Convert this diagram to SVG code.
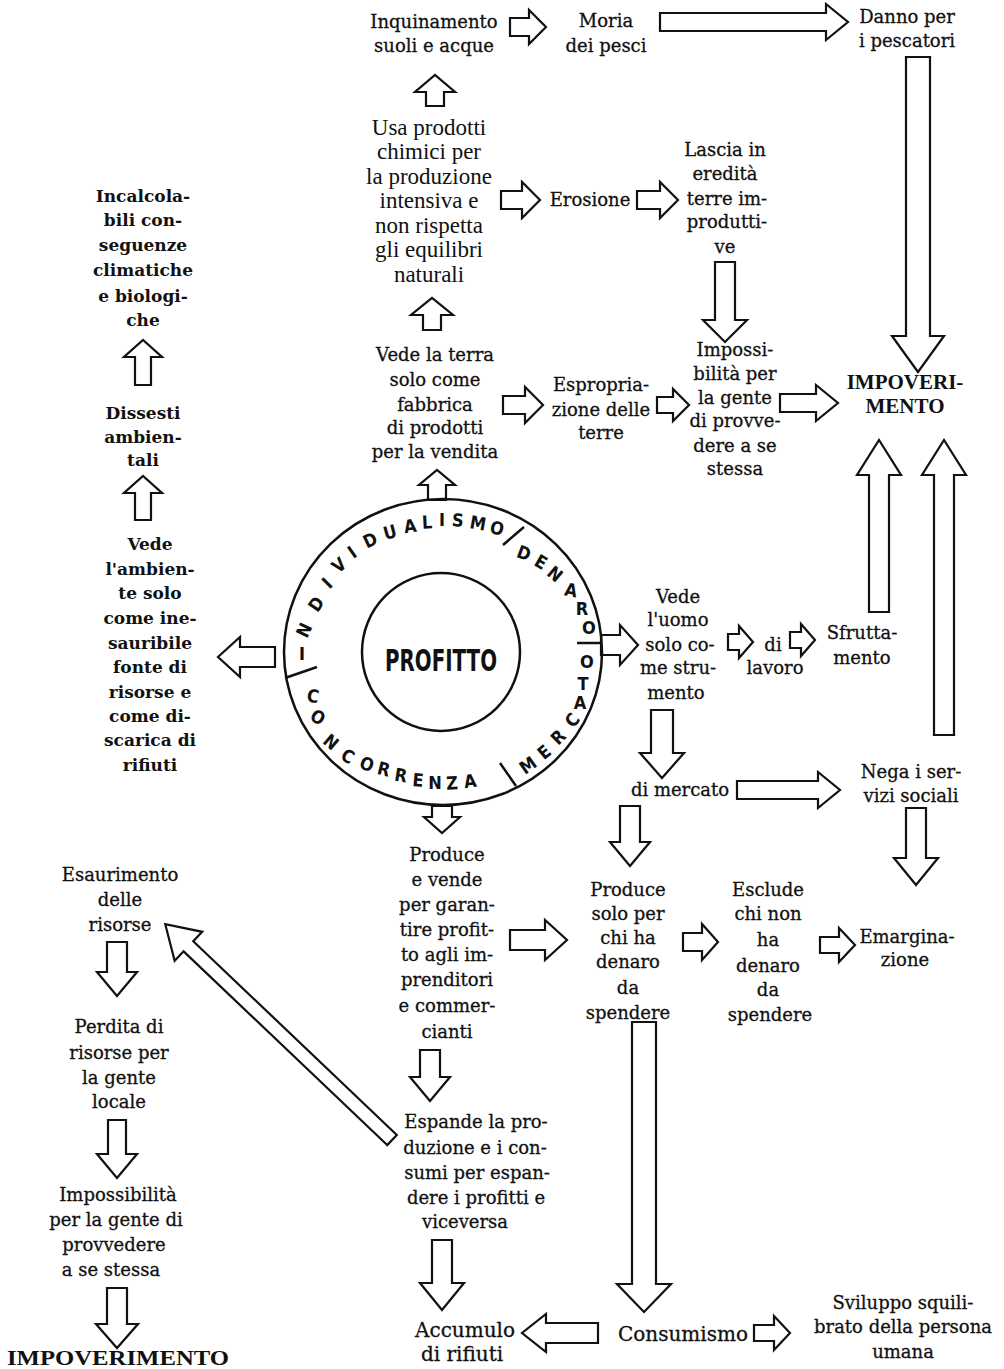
<svg xmlns="http://www.w3.org/2000/svg" width="1004" height="1369" viewBox="0 0 1004 1369">
<style>
text{fill:#111;text-anchor:middle}
.t{font-family:"DejaVu Serif","Liberation Serif",serif;font-size:18px;stroke:#111;stroke-width:0.3}
.tl{font-family:"DejaVu Serif","Liberation Serif",serif;font-size:20px;stroke:#111;stroke-width:0.3}
.b{font-family:"DejaVu Serif","Liberation Serif",serif;font-size:17px;font-weight:bold}
.tm{font-family:"Liberation Serif",serif;font-size:23px}
.cap{font-family:"Liberation Serif",serif;font-size:21px;font-weight:bold}
.ring{font-family:"DejaVu Sans Condensed","Liberation Sans",sans-serif;font-size:18px;font-weight:bold;dominant-baseline:central}
.arr{fill:#fff;stroke:#111;stroke-width:2.2;stroke-linejoin:miter}
.ln{stroke:#111;stroke-width:2.5;fill:none}
</style>
<rect width="1004" height="1369" fill="#fff"/>

<g id="connectors">
<path class="arr" d="M510,18 L529,18 L529,10 L546,27 L529,44 L529,36 L510,36 Z"/>
<path class="arr" d="M660,13 L826,13 L826,4 L848,22 L826,40 L826,31 L660,31 Z"/>
<path class="arr" d="M426,106 L444,106 L444,92 L455,92 L435,75 L415,92 L426,92 Z"/>
<path class="arr" d="M906,57 L930,57 L930,336 L944,336 L918,372 L892,336 L906,336 Z"/>
<path class="arr" d="M501,191 L522,191 L522,182 L540,200 L522,218 L522,209 L501,209 Z"/>
<path class="arr" d="M637,191 L660,191 L660,182 L678,200 L660,218 L660,209 L637,209 Z"/>
<path class="arr" d="M715,262 L735,262 L735,320 L747,320 L725,342 L703,320 L715,320 Z"/>
<path class="arr" d="M423,330 L441,330 L441,315 L453,315 L432,298 L411,315 L423,315 Z"/>
<path class="arr" d="M503,396 L525,396 L525,387 L543,405 L525,423 L525,414 L503,414 Z"/>
<path class="arr" d="M657,397 L673,397 L673,389 L689,405 L673,421 L673,413 L657,413 Z"/>
<path class="arr" d="M780,394 L816,394 L816,385 L838,403 L816,421 L816,412 L780,412 Z"/>
<path class="arr" d="M869,612 L889,612 L889,475 L901,475 L879,440 L857,475 L869,475 Z"/>
<path class="arr" d="M934,735 L954,735 L954,475 L966,475 L944,440 L922,475 L934,475 Z"/>
<path class="arr" d="M428,500 L446,500 L446,485 L455,485 L437,470 L419,485 L428,485 Z"/>
<path class="arr" d="M135,385 L151,385 L151,357 L162,357 L143,340 L124,357 L135,357 Z"/>
<path class="arr" d="M135,520 L151,520 L151,493 L162,493 L143,476 L124,493 L135,493 Z"/>
<path class="arr" d="M275,647 L240,647 L240,637 L218,657 L240,677 L240,667 L275,667 Z"/>
<path class="arr" d="M601,635 L620,635 L620,625 L638,645 L620,665 L620,655 L601,655 Z"/>
<path class="arr" d="M728,634 L739,634 L739,626 L753,642 L739,658 L739,650 L728,650 Z"/>
<path class="arr" d="M790,632 L801,632 L801,624 L815,640 L801,656 L801,648 L790,648 Z"/>
<path class="arr" d="M651,710 L673,710 L673,753 L684,753 L662,778 L640,753 L651,753 Z"/>
<path class="arr" d="M737,781 L818,781 L818,772 L840,790 L818,808 L818,799 L737,799 Z"/>
<path class="arr" d="M620,806 L640,806 L640,842 L650,842 L630,866 L610,842 L620,842 Z"/>
<path class="arr" d="M906,808 L926,808 L926,858 L938,858 L916,885 L894,858 L906,858 Z"/>
<path class="arr" d="M432,806 L452,806 L452,817 L460,817 L442,833 L424,817 L432,817 Z"/>
<path class="arr" d="M510,930 L545,930 L545,920 L567,940 L545,960 L545,950 L510,950 Z"/>
<path class="arr" d="M683,933 L702,933 L702,924 L718,942 L702,960 L702,951 L683,951 Z"/>
<path class="arr" d="M820,937 L839,937 L839,928 L855,945 L839,962 L839,953 L820,953 Z"/>
<path class="arr" d="M420,1050 L440,1050 L440,1077 L450,1077 L430,1101 L410,1077 L420,1077 Z"/>
<path class="arr" d="M432,1240 L452,1240 L452,1283 L464,1283 L442,1310 L420,1283 L432,1283 Z"/>
<path class="arr" d="M632,1022 L656,1022 L656,1284 L671,1284 L644,1312 L617,1284 L632,1284 Z"/>
<path class="arr" d="M598,1323 L546,1323 L546,1314 L522,1333 L546,1352 L546,1343 L598,1343 Z"/>
<path class="arr" d="M754,1325 L774,1325 L774,1316 L790,1333 L774,1350 L774,1341 L754,1341 Z"/>
<path class="arr" d="M107,942 L127,942 L127,972 L137,972 L117,996 L97,972 L107,972 Z"/>
<path class="arr" d="M108,1120 L126,1120 L126,1154 L137,1154 L117,1178 L97,1154 L108,1154 Z"/>
<path class="arr" d="M107,1288 L127,1288 L127,1324 L138,1324 L117,1348 L96,1324 L107,1324 Z"/>
<path class="arr" transform="translate(392,1140) rotate(223.58)" d="M0,-7 L281,-7 L281,-20 L313,0 L281,20 L281,7 L0,7 Z"/>
</g>

<g id="profitto">
<ellipse class="ln" cx="443" cy="652" rx="159" ry="153"/>
<circle class="ln" cx="441" cy="652" r="79"/>
<text x="441" y="671" font-family="DejaVu Sans Condensed, Liberation Sans, sans-serif" font-size="30" font-weight="bold" textLength="112" lengthAdjust="spacingAndGlyphs">PROFITTO</text>
<line class="ln" x1="503" y1="545" x2="524" y2="527"/>
<line class="ln" x1="577" y1="643" x2="602" y2="643"/>
<line class="ln" x1="500" y1="763" x2="516" y2="786"/>
<line class="ln" x1="285" y1="678" x2="317" y2="667"/>
<g class="ring-text">
<text class="ring" x="302" y="653">I</text>
<text class="ring" x="304" y="630" transform="rotate(-65 304 630)">N</text>
<text class="ring" x="316" y="604" transform="rotate(-55 316 604)">D</text>
<text class="ring" x="327" y="583" transform="rotate(-45 327 583)">I</text>
<text class="ring" x="339" y="565" transform="rotate(-40 339 565)">V</text>
<text class="ring" x="352" y="552" transform="rotate(-35 352 552)">I</text>
<text class="ring" x="370" y="540" transform="rotate(-25 370 540)">D</text>
<text class="ring" x="390" y="532" transform="rotate(-15 390 532)">U</text>
<text class="ring" x="410" y="526" transform="rotate(-8 410 526)">A</text>
<text class="ring" x="427" y="522" transform="rotate(-3 427 522)">L</text>
<text class="ring" x="442" y="519">I</text>
<text class="ring" x="458" y="520" transform="rotate(5 458 520)">S</text>
<text class="ring" x="478" y="523" transform="rotate(10 478 523)">M</text>
<text class="ring" x="497" y="528" transform="rotate(15 497 528)">O</text>
<text class="ring" x="524" y="553" transform="rotate(20 524 553)">D</text>
<text class="ring" x="541" y="562" transform="rotate(30 541 562)">E</text>
<text class="ring" x="555" y="574" transform="rotate(40 555 574)">N</text>
<text class="ring" x="571" y="590" transform="rotate(10 571 590)">A</text>
<text class="ring" x="582" y="608">R</text>
<text class="ring" x="589" y="627">O</text>
<text class="ring" x="587" y="661">O</text>
<text class="ring" x="583" y="683">T</text>
<text class="ring" x="580" y="702">A</text>
<text class="ring" x="572" y="720" transform="rotate(-50 572 720)">C</text>
<text class="ring" x="558" y="737" transform="rotate(-45 558 737)">R</text>
<text class="ring" x="544" y="752" transform="rotate(-40 544 752)">E</text>
<text class="ring" x="528" y="765" transform="rotate(-35 528 765)">M</text>
<text class="ring" x="313" y="696" transform="rotate(10 313 696)">C</text>
<text class="ring" x="318" y="717" transform="rotate(30 318 717)">O</text>
<text class="ring" x="331" y="742" transform="rotate(40 331 742)">N</text>
<text class="ring" x="348" y="756" transform="rotate(30 348 756)">C</text>
<text class="ring" x="367" y="764" transform="rotate(20 367 764)">O</text>
<text class="ring" x="384" y="769" transform="rotate(14 384 769)">R</text>
<text class="ring" x="401" y="775" transform="rotate(9 401 775)">R</text>
<text class="ring" x="418" y="780" transform="rotate(5 418 780)">E</text>
<text class="ring" x="435" y="782">N</text>
<text class="ring" x="452" y="783" transform="rotate(-3 452 783)">Z</text>
<text class="ring" x="470" y="781" transform="rotate(-8 470 781)">A</text>
</g>
</g>

<g id="inquinamento"><text class="t" x="434" y="28">Inquinamento</text><text class="t" x="434" y="52">suoli e acque</text></g>
<g id="moria"><text class="t" x="606" y="27">Moria</text><text class="t" x="606" y="52">dei pesci</text></g>
<g id="danno"><text class="t" x="907" y="23">Danno per</text><text class="t" x="907" y="47">i pescatori</text></g>
<g id="usa-prodotti">
<text class="tm" x="429" y="135">Usa prodotti</text>
<text class="tm" x="429" y="159">chimici per</text>
<text class="tm" x="429" y="184">la produzione</text>
<text class="tm" x="429" y="208">intensiva e</text>
<text class="tm" x="429" y="233">non rispetta</text>
<text class="tm" x="429" y="257">gli equilibri</text>
<text class="tm" x="429" y="282">naturali</text>
</g>
<g id="erosione"><text class="t" x="590" y="206">Erosione</text></g>
<g id="lascia">
<text class="t" x="725" y="156">Lascia in</text>
<text class="t" x="725" y="180">eredità</text>
<text class="t" x="727" y="205">terre im-</text>
<text class="t" x="727" y="228">produtti-</text>
<text class="t" x="725" y="253">ve</text>
</g>
<g id="vede-terra">
<text class="t" x="435" y="361">Vede la terra</text>
<text class="t" x="435" y="386">solo come</text>
<text class="t" x="435" y="411">fabbrica</text>
<text class="t" x="435" y="434">di prodotti</text>
<text class="t" x="435" y="458">per la vendita</text>
</g>
<g id="espropriazione">
<text class="t" x="601" y="391">Espropria-</text>
<text class="t" x="601" y="416">zione delle</text>
<text class="t" x="601" y="439">terre</text>
</g>
<g id="impossibilita-1">
<text class="t" x="735" y="356">Impossi-</text>
<text class="t" x="735" y="380">bilità per</text>
<text class="t" x="735" y="404">la gente</text>
<text class="t" x="735" y="427">di provve-</text>
<text class="t" x="735" y="452">dere a se</text>
<text class="t" x="735" y="475">stessa</text>
</g>
<g id="impoverimento-1">
<text class="cap" x="905" y="389">IMPOVERI-</text>
<text class="cap" x="905" y="413">MENTO</text>
</g>
<g id="incalcolabili">
<text class="b" x="143" y="202">Incalcola-</text>
<text class="b" x="143" y="226">bili con-</text>
<text class="b" x="143" y="251">seguenze</text>
<text class="b" x="143" y="276">climatiche</text>
<text class="b" x="143" y="302">e biologi-</text>
<text class="b" x="143" y="326">che</text>
</g>
<g id="dissesti">
<text class="b" x="143" y="419">Dissesti</text>
<text class="b" x="143" y="443">ambien-</text>
<text class="b" x="143" y="466">tali</text>
</g>
<g id="vede-ambiente">
<text class="b" x="150" y="550">Vede</text>
<text class="b" x="150" y="575">l'ambien-</text>
<text class="b" x="150" y="599">te solo</text>
<text class="b" x="150" y="624">come ine-</text>
<text class="b" x="150" y="649">sauribile</text>
<text class="b" x="150" y="673">fonte di</text>
<text class="b" x="150" y="698">risorse e</text>
<text class="b" x="150" y="722">come di-</text>
<text class="b" x="150" y="746">scarica di</text>
<text class="b" x="150" y="771">rifiuti</text>
</g>
<g id="vede-uomo">
<text class="t" x="678" y="603">Vede</text>
<text class="t" x="678" y="626">l'uomo</text>
<text class="t" x="680" y="651">solo co-</text>
<text class="t" x="678" y="674">me stru-</text>
<text class="t" x="676" y="699">mento</text>
</g>
<g id="di-lavoro"><text class="t" x="773" y="651">di</text><text class="t" x="775" y="674">lavoro</text></g>
<g id="sfruttamento"><text class="t" x="862" y="639">Sfrutta-</text><text class="t" x="862" y="664">mento</text></g>
<g id="di-mercato"><text class="t" x="680" y="796">di mercato</text></g>
<g id="nega"><text class="t" x="911" y="778">Nega i ser-</text><text class="t" x="911" y="802">vizi sociali</text></g>
<g id="produce-vende">
<text class="t" x="447" y="861">Produce</text>
<text class="t" x="447" y="886">e vende</text>
<text class="t" x="447" y="911">per garan-</text>
<text class="t" x="447" y="936">tire profit-</text>
<text class="t" x="447" y="961">to agli im-</text>
<text class="t" x="447" y="986">prenditori</text>
<text class="t" x="447" y="1012">e commer-</text>
<text class="t" x="447" y="1038">cianti</text>
</g>
<g id="produce-solo">
<text class="t" x="628" y="896">Produce</text>
<text class="t" x="628" y="920">solo per</text>
<text class="t" x="628" y="944">chi ha</text>
<text class="t" x="628" y="968">denaro</text>
<text class="t" x="628" y="994">da</text>
<text class="t" x="628" y="1019">spendere</text>
</g>
<g id="esclude">
<text class="t" x="768" y="896">Esclude</text>
<text class="t" x="768" y="920">chi non</text>
<text class="t" x="768" y="946">ha</text>
<text class="t" x="768" y="972">denaro</text>
<text class="t" x="768" y="996">da</text>
<text class="t" x="770" y="1021">spendere</text>
</g>
<g id="emarginazione"><text class="t" x="907" y="943">Emargina-</text><text class="t" x="905" y="966">zione</text></g>
<g id="espande">
<text class="t" x="476" y="1128">Espande la pro-</text>
<text class="t" x="475" y="1154">duzione e i con-</text>
<text class="t" x="477" y="1179">sumi per espan-</text>
<text class="t" x="476" y="1204">dere i profitti  e</text>
<text class="t" x="465" y="1228">viceversa</text>
</g>
<g id="accumulo"><text class="tl" x="465" y="1337">Accumulo</text><text class="tl" x="462" y="1361">di rifiuti</text></g>
<g id="consumismo"><text class="tl" x="683" y="1341">Consumismo</text></g>
<g id="sviluppo">
<text class="t" x="903" y="1309" font-size="19">Sviluppo squili-</text>
<text class="t" x="903" y="1333" font-size="19">brato della persona</text>
<text class="t" x="903" y="1358" font-size="19">umana</text>
</g>
<g id="esaurimento">
<text class="t" x="120" y="881">Esaurimento</text>
<text class="t" x="120" y="906">delle</text>
<text class="t" x="120" y="931">risorse</text>
</g>
<g id="perdita">
<text class="t" x="119" y="1033">Perdita di</text>
<text class="t" x="119" y="1059">risorse per</text>
<text class="t" x="119" y="1084">la gente</text>
<text class="t" x="119" y="1108">locale</text>
</g>
<g id="impossibilita-2">
<text class="t" x="118" y="1201">Impossibilità</text>
<text class="t" x="116" y="1226">per la gente di</text>
<text class="t" x="114" y="1251">provvedere</text>
<text class="t" x="111" y="1276">a se stessa</text>
</g>
<g id="impoverimento-2"><text class="cap" x="118" y="1365" font-size="24" textLength="222" lengthAdjust="spacingAndGlyphs">IMPOVERIMENTO</text></g>
</svg>
